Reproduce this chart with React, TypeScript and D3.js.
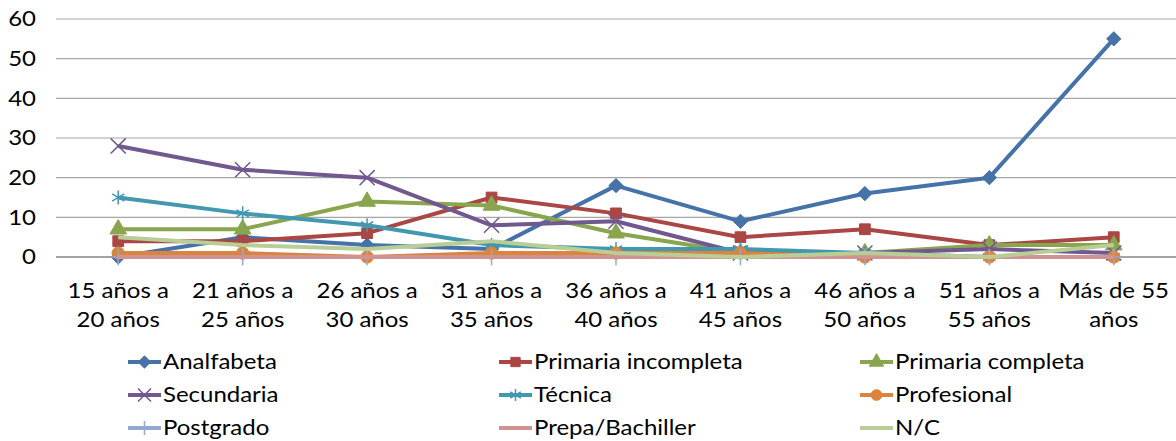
import React from "react";
import * as d3 from "d3";

const categories = [
  ["15 años a", "20 años"],
  ["21 años a", "25 años"],
  ["26 años a", "30 años"],
  ["31 años a", "35 años"],
  ["36 años a", "40 años"],
  ["41 años a", "45 años"],
  ["46 años a", "50 años"],
  ["51 años a", "55 años"],
  ["Más de 55", "años"],
];
const yTicks = [0, 10, 20, 30, 40, 50, 60];

const analfabeta = [0, 5, 3, 2, 18, 9, 16, 20, 55];
const primariaIncompleta = [4, 4, 6, 15, 11, 5, 7, 3, 5];
const primariaCompleta = [7, 7, 14, 13, 6, 1, 1, 3, 3];
const secundaria = [28, 22, 20, 8, 9, 1, 1, 2, 1];
const tecnica = [15, 11, 8, 3, 2, 2, 1, 0, 0];
const profesional = [1, 1, 0, 1, 1, 1, 0, 0, 0];
const postgrado = [0, 0, 0, 0, 0, 0, 0, 0, 0];
const prepa = [0, 0, 0, 0, 0, 0, 0, 0, 0];
const nc = [5, 3, 2, 4, 1, 0, 1, 0, 3];

const series = [
  { name: "Analfabeta", values: analfabeta, color: "#4572A7", symbol: d3.symbolDiamond2, size: 130, fill: true },
  { name: "Primaria incompleta", values: primariaIncompleta, color: "#AA4643", symbol: d3.symbolSquare, size: 115, fill: true },
  { name: "Primaria completa", values: primariaCompleta, color: "#89A54E", symbol: d3.symbolTriangle, size: 120, fill: true },
  { name: "Secundaria", values: secundaria, color: "#71588F", symbol: d3.symbolTimes, size: 150, fill: false },
  { name: "Técnica", values: tecnica, color: "#4198AF", symbol: d3.symbolAsterisk, size: 140, fill: false },
  { name: "Profesional", values: profesional, color: "#DB843D", symbol: d3.symbolCircle, size: 120, fill: true },
  { name: "Postgrado", values: postgrado, color: "#93A9CF", symbol: d3.symbolPlus, size: 90, fill: false },
  { name: "Prepa/Bachiller", values: prepa, color: "#D19392", symbol: null, size: 0, fill: false },
  { name: "N/C", values: nc, color: "#B9CD96", symbol: null, size: 0, fill: false },
];

const W = 1176;
const H = 441;
const FONT = "Lato, 'Open Sans', sans-serif";
const FS = 20.5;
const SX = 1.17; // text in the original is a bit wide

// text with a horizontal stretch
function Label(props: { x: number; y: number; anchor?: string; children: React.ReactNode }) {
  return (
    <text
      transform={`translate(${props.x},${props.y}) scale(${SX},1)`}
      dy="0.35em"
      textAnchor={props.anchor || "start"}
      fontSize={FS}
      fill="#000"
    >
      {props.children}
    </text>
  );
}

export default function App() {
  const x = d3.scaleBand<number>().domain(d3.range(categories.length)).range([56, 1176]);
  const y = d3.scaleLinear().domain([0, 60]).range([257, 19]);
  const cx = (i: number) => (x(i) as number) + x.bandwidth() / 2;
  const line = d3
    .line<number>()
    .x((_, i) => cx(i))
    .y((d) => y(d));

  const legendCols = [128, 499, 860];
  const legendRows = [362, 395, 428];

  return (
    <svg
      width={W}
      height={H}
      style={{ position: "fixed", left: 0, top: 0, background: "#fff" }}
      fontFamily={FONT}
    >
      {yTicks.map((t) => (
        <g key={t}>
          <line
            x1={56}
            x2={W}
            y1={y(t)}
            y2={y(t)}
            stroke={t === 0 ? "#868686" : "#A6A6A6"}
            strokeWidth={t === 0 ? 1.5 : 1.2}
          />
          <Label x={36} y={y(t)} anchor="end">{t}</Label>
        </g>
      ))}

      {categories.map((c, i) => (
        <g key={i}>
          <Label x={cx(i)} y={291} anchor="middle">{c[0]}</Label>
          <Label x={cx(i)} y={320} anchor="middle">{c[1]}</Label>
        </g>
      ))}

      {series.map((s) => (
        <g key={s.name}>
          <path d={line(s.values) || ""} fill="none" stroke={s.color} strokeWidth={4} strokeLinejoin="round" />
          {s.symbol &&
            s.values.map((v, i) => (
              <path
                key={i}
                transform={`translate(${cx(i)},${y(v)})`}
                d={d3.symbol(s.symbol as d3.SymbolType, s.size)() || ""}
                fill={s.fill ? s.color : "none"}
                stroke={s.color}
                strokeWidth={s.fill ? 1 : 1.5}
              />
            ))}
        </g>
      ))}

      {series.map((s, k) => {
        const lx = legendCols[k % 3];
        const ly = legendRows[Math.floor(k / 3)];
        return (
          <g key={s.name}>
            <line x1={lx} x2={lx + 33} y1={ly} y2={ly} stroke={s.color} strokeWidth={4} />
            {s.symbol && (
              <path
                transform={`translate(${lx + 16.5},${ly})`}
                d={d3.symbol(s.symbol as d3.SymbolType, s.size * 0.75)() || ""}
                fill={s.fill ? s.color : "none"}
                stroke={s.color}
                strokeWidth={s.fill ? 1 : 1.5}
              />
            )}
            <Label x={lx + 35} y={ly}>{s.name}</Label>
          </g>
        );
      })}
    </svg>
  );
}
